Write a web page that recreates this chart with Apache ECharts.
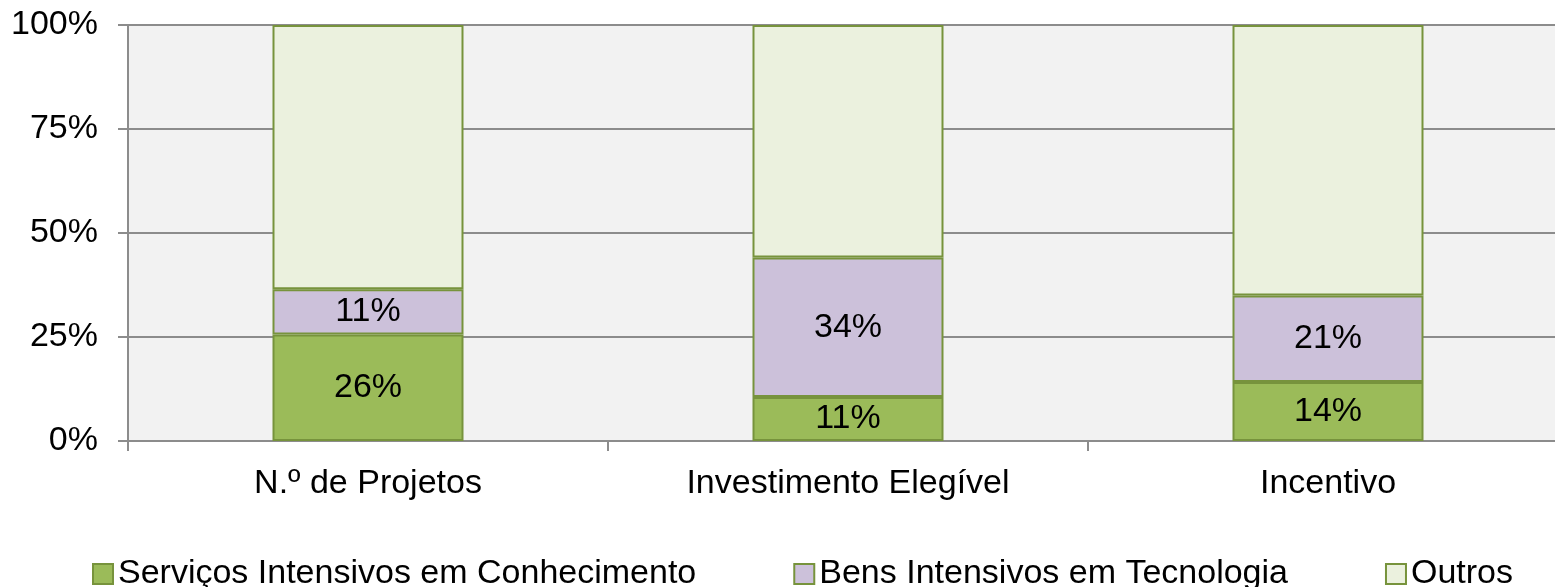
<!DOCTYPE html>
<html>
<head>
<meta charset="utf-8">
<script src="https://cdn.jsdelivr.net/npm/echarts@6/dist/echarts.min.js"></script>
<style>
  html, body { margin: 0; padding: 0; background: #fff; }
  #chart { width: 1555px; height: 587px; }
</style>
</head>
<body>
<div id="chart"></div>
<script>
  const categories = ['N.º de Projetos', 'Investimento Elegível', 'Incentivo'];
  const servicos = [25.6, 10.6, 14.2];
  const bens = [10.9, 33.5, 20.8];
  const outros = [63.5, 55.9, 65.0];
  const yTicks = [0, 25, 50, 75, 100];

  const font = 'Liberation Sans, Arial, sans-serif';
  const edge = '#77933c';

  const chart = echarts.init(document.getElementById('chart'));

  const label = {
    show: true,
    position: 'inside',
    color: '#000',
    fontFamily: font,
    fontSize: 34,
    formatter: p => Math.round(p.value) + '%'
  };

  chart.setOption({
    animation: false,
    grid: {
      left: 128, right: -13, top: 25, bottom: 146,
      outerBoundsMode: 'none',
      show: true, backgroundColor: '#f2f2f2', borderWidth: 0
    },
    legend: {
      top: 552, left: 87,
      icon: 'rect',
      itemWidth: 20, itemHeight: 20, itemGap: 97,
      textStyle: { fontFamily: font, fontSize: 34, color: '#000' },
      data: ['Serviços Intensivos em Conhecimento', 'Bens Intensivos em Tecnologia', 'Outros']
    },
    xAxis: {
      type: 'category',
      data: categories,
      axisLine: { lineStyle: { color: '#8c8c8c', width: 2 } },
      axisTick: { show: true, length: 10, lineStyle: { color: '#8c8c8c', width: 2 } },
      axisLabel: { color: '#000', fontFamily: font, fontSize: 34, margin: 26 }
    },
    yAxis: {
      type: 'value',
      min: yTicks[0], max: yTicks[yTicks.length - 1], interval: 25,
      axisLine: { show: true, lineStyle: { color: '#8c8c8c', width: 2 } },
      axisTick: { show: true, length: 10, lineStyle: { color: '#8c8c8c', width: 2 } },
      splitLine: { lineStyle: { color: '#8c8c8c', width: 2 } },
      axisLabel: { color: '#000', fontFamily: font, fontSize: 34, margin: 30, formatter: '{value}%' }
    },
    series: [
      {
        name: 'Serviços Intensivos em Conhecimento', type: 'bar', stack: 'total',
        barWidth: 191, data: servicos, label: label,
        itemStyle: { color: '#9bbb59', borderColor: edge, borderWidth: 2 }
      },
      {
        name: 'Bens Intensivos em Tecnologia', type: 'bar', stack: 'total',
        barWidth: 191, data: bens, label: label,
        itemStyle: { color: '#ccc1da', borderColor: edge, borderWidth: 2 }
      },
      {
        name: 'Outros', type: 'bar', stack: 'total',
        barWidth: 191, data: outros,
        itemStyle: { color: '#ebf1de', borderColor: edge, borderWidth: 2 }
      }
    ]
  });
</script>
</body>
</html>
